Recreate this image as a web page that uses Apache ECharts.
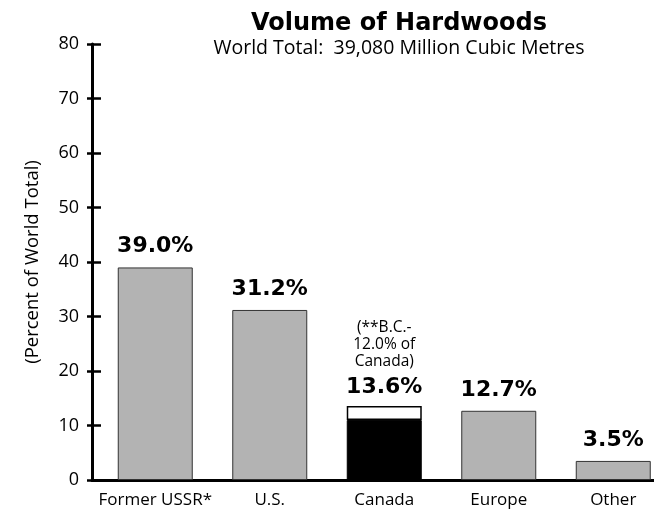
<!DOCTYPE html>
<html>
<head>
<meta charset="utf-8">
<script src="https://cdn.jsdelivr.net/npm/echarts@6/dist/echarts.min.js"></script>
<style>
  html, body { margin: 0; padding: 0; background: #fff; overflow: hidden; }
  #chart { width: 654px; height: 511px; }
</style>
</head>
<body>
<div id="chart"></div>
<script>
const categories = ['Former USSR*', 'U.S.', 'Canada', 'Europe', 'Other']
const shares = [39.0, 31.2, 13.6, 12.7, 3.5]
const canadaIndex = 2
const canadaDark = 11.0
const canadaNote = ['(**B.C.-', '12.0% of', 'Canada)']
const yTicks = [0, 10, 20, 30, 40, 50, 60, 70, 80]

const font = "'Open Sans', 'Noto Sans', sans-serif"
const boldFont = "'DejaVu Sans', sans-serif"

const chart = echarts.init(document.getElementById('chart'), null, { renderer: 'canvas' })

const baseData = shares.map((v, i) => {
  if (i === canadaIndex) {
    return { value: canadaDark, itemStyle: { color: '#000', borderColor: '#000' }, label: { show: false } }
  }
  return v
})
const topData = shares.map((v, i) => (i === canadaIndex ? +(v - canadaDark).toFixed(1) : null))

const option = {
  animation: false,
  backgroundColor: '#fff',
  title: [
    {
      text: 'Volume of Hardwoods',
      left: 394,
      top: 7,
      textAlign: 'center',
      textStyle: { fontFamily: boldFont, fontWeight: 'bold', fontSize: 24, color: '#000' }
    },
    {
      text: 'World Total:  39,080 Million Cubic Metres',
      left: 394,
      top: 33,
      textAlign: 'center',
      textStyle: { fontFamily: font, fontWeight: 'normal', fontSize: 19.5, color: '#000' }
    }
  ],
  // frame grid holds the axis lines, the second one the bars (its last band runs past the edge)
  grid: [
    { left: 92, top: 44, width: 562, height: 436, outerBoundsMode: 'none' },
    { left: 98, top: 44, width: 572.5, height: 436, outerBoundsMode: 'none' }
  ],
  xAxis: [
    {
      gridIndex: 0,
      type: 'value',
      min: 0,
      max: 1,
      axisLine: { show: true, lineStyle: { color: '#000', width: 3 } },
      axisTick: { show: false },
      axisLabel: { show: false },
      splitLine: { show: false }
    },
    {
      gridIndex: 1,
      type: 'category',
      data: categories,
      axisLine: { show: false },
      axisTick: { show: false },
      axisLabel: { interval: 0, fontFamily: font, fontSize: 17, color: '#000', margin: 12 }
    }
  ],
  yAxis: [
    {
      gridIndex: 0,
      type: 'value',
      min: 0,
      max: 80,
      interval: 10,
      name: '(Percent of World Total)',
      nameLocation: 'middle',
      nameGap: 50,
      nameTextStyle: { fontFamily: font, fontSize: 18.5, color: '#000' },
      axisLine: { show: true, lineStyle: { color: '#000', width: 3 } },
      axisTick: { show: true, length: 5, lineStyle: { color: '#000', width: 2.5 } },
      axisLabel: {
        fontFamily: font, fontSize: 18, color: '#000', margin: 13,
        formatter: v => (yTicks.includes(v) ? String(v) : '')
      },
      splitLine: { show: false }
    },
    {
      gridIndex: 1,
      type: 'value',
      min: 0,
      max: 80,
      interval: 10,
      offset: 6,
      axisLine: { show: false },
      axisTick: { show: true, inside: true, length: 9, lineStyle: { color: '#000', width: 2.5 } },
      axisLabel: { show: false },
      splitLine: { show: false }
    }
  ],
  series: [
    {
      name: 'share',
      type: 'bar',
      xAxisIndex: 1,
      yAxisIndex: 1,
      stack: 'total',
      barWidth: 75,
      data: baseData,
      itemStyle: { color: '#b3b3b3', borderColor: '#333', borderWidth: 1 },
      label: {
        show: true,
        position: 'top',
        distance: 10,
        fontFamily: boldFont,
        fontWeight: 'bold',
        fontSize: 22,
        color: '#000',
        formatter: p => p.value.toFixed(1) + '%'
      }
    },
    {
      name: 'canadaTop',
      type: 'bar',
      xAxisIndex: 1,
      yAxisIndex: 1,
      stack: 'total',
      barWidth: 75,
      data: topData,
      itemStyle: { color: '#fff', borderColor: '#000', borderWidth: 1.5 },
      label: {
        show: true,
        position: 'top',
        distance: 2,
        color: '#000',
        formatter: () => '{note|' + canadaNote.join('}\n{note|') + '}\n{val|' + shares[canadaIndex].toFixed(1) + '%}',
        rich: {
          note: { fontFamily: font, fontSize: 15.5, lineHeight: 17, color: '#000', align: 'center' },
          val: { fontFamily: boldFont, fontWeight: 'bold', fontSize: 22, lineHeight: 34, color: '#000', align: 'center' }
        }
      }
    }
  ]
}

chart.setOption(option)

window.addEventListener('resize', () => {
  chart.resize()
})
</script>
</body>
</html>
